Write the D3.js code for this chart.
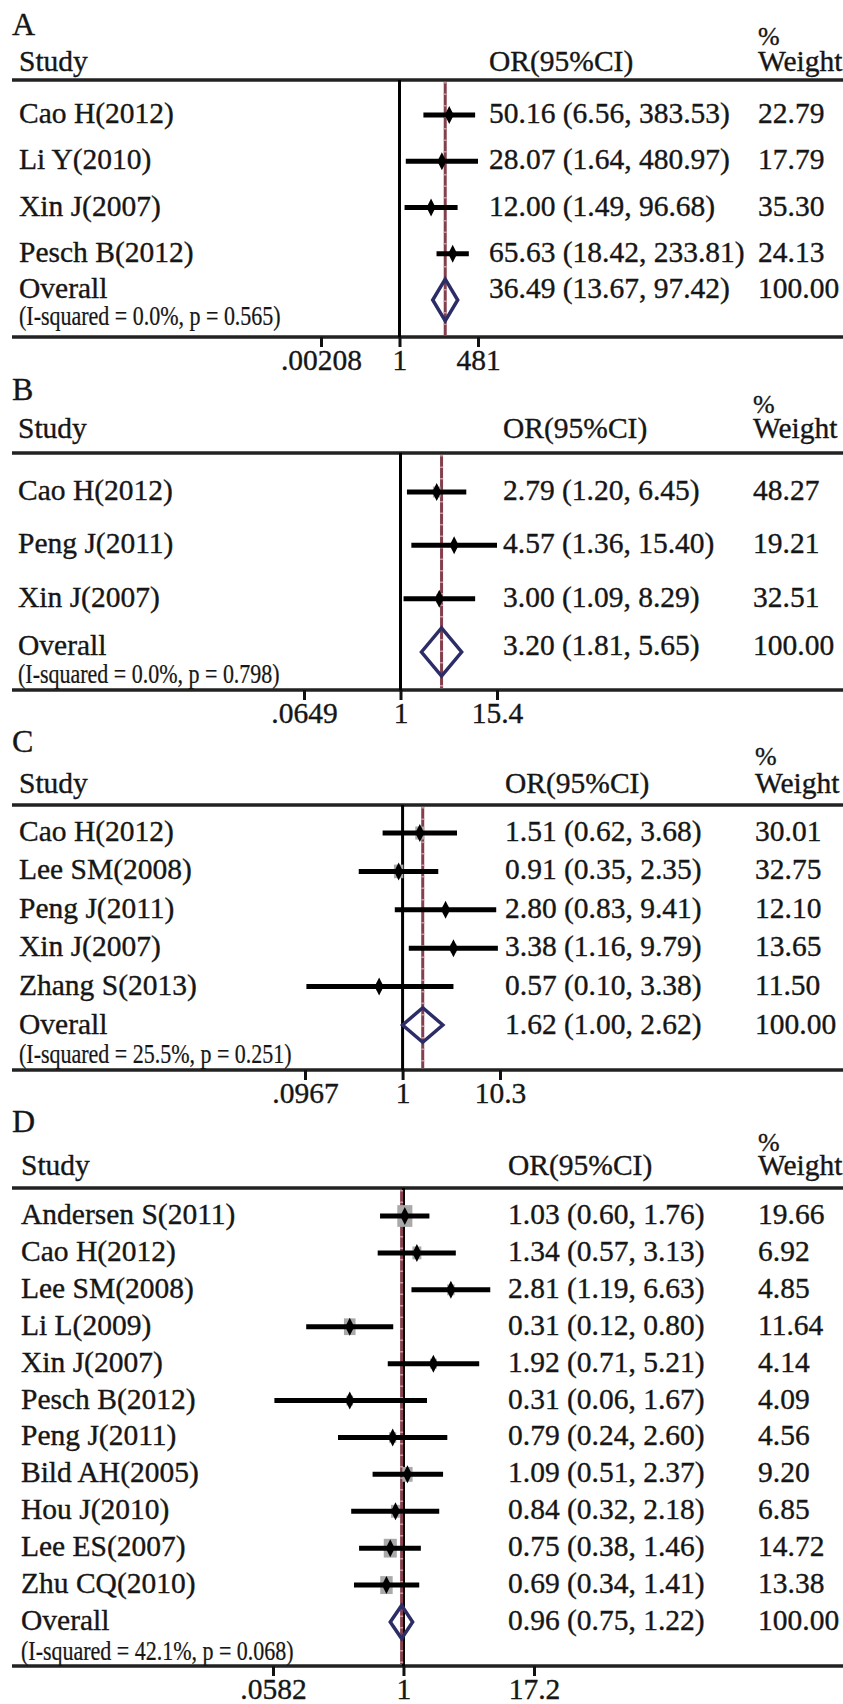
<!DOCTYPE html>
<html>
<head>
<meta charset="utf-8">
<script src="https://cdn.jsdelivr.net/npm/d3@7"></script>
<style>
  body { margin: 0; background: #fff; }
  svg { display: block; }
  text { font-family: "Liberation Serif", "Times New Roman", serif; fill: #161616; stroke: #161616; stroke-width: 0.35px; }
</style>
</head>
<body>
<div id="viz"></div>
<script>
// ---- data ----
const studiesA = ["Cao H(2012)", "Li Y(2010)", "Xin J(2007)", "Pesch B(2012)"];
const orA      = [50.16, 28.07, 12.00, 65.63];
const lowA     = [6.56, 1.64, 1.49, 18.42];
const highA    = [383.53, 480.97, 96.68, 233.81];
const weightA  = [22.79, 17.79, 35.30, 24.13];
const overallA = [36.49, 13.67, 97.42];
const hetA     = "(I-squared = 0.0%, p = 0.565)";
const ticksA   = [".00208", "1", "481"];

const studiesB = ["Cao H(2012)", "Peng J(2011)", "Xin J(2007)"];
const orB      = [2.79, 4.57, 3.00];
const lowB     = [1.20, 1.36, 1.09];
const highB    = [6.45, 15.40, 8.29];
const weightB  = [48.27, 19.21, 32.51];
const overallB = [3.20, 1.81, 5.65];
const hetB     = "(I-squared = 0.0%, p = 0.798)";
const ticksB   = [".0649", "1", "15.4"];

const studiesC = ["Cao H(2012)", "Lee SM(2008)", "Peng J(2011)", "Xin J(2007)", "Zhang S(2013)"];
const orC      = [1.51, 0.91, 2.80, 3.38, 0.57];
const lowC     = [0.62, 0.35, 0.83, 1.16, 0.10];
const highC    = [3.68, 2.35, 9.41, 9.79, 3.38];
const weightC  = [30.01, 32.75, 12.10, 13.65, 11.50];
const overallC = [1.62, 1.00, 2.62];
const hetC     = "(I-squared = 25.5%, p = 0.251)";
const ticksC   = [".0967", "1", "10.3"];

const studiesD = ["Andersen S(2011)", "Cao H(2012)", "Lee SM(2008)", "Li L(2009)", "Xin J(2007)",
                  "Pesch B(2012)", "Peng J(2011)", "Bild AH(2005)", "Hou J(2010)", "Lee ES(2007)", "Zhu CQ(2010)"];
const orD      = [1.03, 1.34, 2.81, 0.31, 1.92, 0.31, 0.79, 1.09, 0.84, 0.75, 0.69];
const lowD     = [0.60, 0.57, 1.19, 0.12, 0.71, 0.06, 0.24, 0.51, 0.32, 0.38, 0.34];
const highD    = [1.76, 3.13, 6.63, 0.80, 5.21, 1.67, 2.60, 2.37, 2.18, 1.46, 1.41];
const weightD  = [19.66, 6.92, 4.85, 11.64, 4.14, 4.09, 4.56, 9.20, 6.85, 14.72, 13.38];
const overallD = [0.96, 0.75, 1.22];
const hetD     = "(I-squared = 42.1%, p = 0.068)";
const ticksD   = [".0582", "1", "17.2"];

// ---- layout for each panel (pixel positions, not data) ----
const layouts = [
  {letter: "A", letterY: 35,   pctY: 45,   headY: 71,   ruleTop: 80,   firstY: 115,  overallY: 300,  ovTextY: 298,  hetY: 325,  ruleBot: 337,  range: [321, 478], labelX: 19, orX: 489, wX: 758, boxK: 0.8},
  {letter: "B", letterY: 400,  pctY: 413,  headY: 438,  ruleTop: 453,  firstY: 492,  overallY: 652,  ovTextY: 655,  hetY: 683,  ruleBot: 690,  range: [304, 497], labelX: 18, orX: 503, wX: 753, boxK: 1.1},
  {letter: "C", letterY: 752,  pctY: 765,  headY: 793,  ruleTop: 805,  firstY: 833,  overallY: 1025, ovTextY: 1034, hetY: 1063, ruleBot: 1070, range: [305, 500], labelX: 19, orX: 505, wX: 755, boxK: 1.65},
  {letter: "D", letterY: 1132, pctY: 1151, headY: 1175, ruleTop: 1188, firstY: 1216, overallY: 1622, ovTextY: 1630, hetY: 1660, ruleBot: 1666, range: [273, 534], labelX: 21, orX: 508, wX: 758, boxK: 3.4}
];

const panels = [
  {studies: studiesA, or: orA, low: lowA, high: highA, weight: weightA, overall: overallA, het: hetA, ticks: ticksA},
  {studies: studiesB, or: orB, low: lowB, high: highB, weight: weightB, overall: overallB, het: hetB, ticks: ticksB},
  {studies: studiesC, or: orC, low: lowC, high: highC, weight: weightC, overall: overallC, het: hetC, ticks: ticksC},
  {studies: studiesD, or: orD, low: lowD, high: highD, weight: weightD, overall: overallD, het: hetD, ticks: ticksD}
];

const width = 843, height = 1704;
const fontSize = 29.5;
const ruleLeft = 12;

let svg = d3.select("#viz")
  .append("svg")
    .attr("width", width)
    .attr("height", height);

svg.append("rect").attr("width", width).attr("height", height).attr("fill", "#fff");

const fmt = d3.format(".2f");

function drawPanel(p, L) {
  let g = svg.append("g").attr("class", "panel-" + L.letter);
  let n = p.studies.length;

  // log scale on the odds ratio, symmetric around 1
  let tickVals = p.ticks.map(t => +t);
  let x = d3.scaleLog()
    .domain([tickVals[0], tickVals[tickVals.length - 1]])
    .range(L.range);
  // rows: 0..n-1 studies, n = overall
  let y = d3.scaleLinear()
    .domain([0, n])
    .range([L.firstY, L.overallY]);

  // panel letter + column headings
  g.append("text").attr("x", 12).attr("y", L.letterY)
    .style("font-size", "32px").text(L.letter);
  g.append("text").attr("x", L.labelX).attr("y", L.headY)
    .style("font-size", fontSize + "px").text("Study");
  g.append("text").attr("x", L.orX).attr("y", L.headY)
    .style("font-size", fontSize + "px").text("OR(95%CI)");
  g.append("text").attr("x", L.wX).attr("y", L.pctY)
    .style("font-size", "26px").text("%");
  g.append("text").attr("x", L.wX).attr("y", L.headY)
    .style("font-size", fontSize + "px").text("Weight");

  // horizontal rules
  [L.ruleTop, L.ruleBot].forEach(ry => {
    g.append("line")
      .attr("x1", ruleLeft).attr("x2", width)
      .attr("y1", ry).attr("y2", ry)
      .attr("stroke", "#222").attr("stroke-width", 3.5);
  });

  // line of no effect
  g.append("line")
    .attr("x1", x(1)).attr("x2", x(1))
    .attr("y1", L.ruleTop).attr("y2", L.ruleBot)
    .attr("stroke", "#000").attr("stroke-width", 3);

  // pooled estimate line (dark red, lightly dashed)
  g.append("line")
    .attr("x1", x(p.overall[0])).attr("x2", x(p.overall[0]))
    .attr("y1", L.ruleTop + 2).attr("y2", L.ruleBot - 2)
    .attr("stroke", "#843f4c").attr("stroke-width", 3);
  g.append("line")
    .attr("x1", x(p.overall[0])).attr("x2", x(p.overall[0]))
    .attr("y1", L.ruleTop + 2).attr("y2", L.ruleBot - 2)
    .attr("stroke", "#c99aa2").attr("stroke-width", 3)
    .attr("stroke-dasharray", "1.5,10");

  // bottom axis with the three ticks
  let axis = g.append("g")
    .attr("transform", "translate(0," + L.ruleBot + ")")
    .call(d3.axisBottom(x)
      .tickValues(tickVals)
      .tickFormat((d, i) => p.ticks[i])
      .tickSize(10)
      .tickPadding(2));
  axis.select(".domain").remove();
  axis.selectAll(".tick line").attr("stroke", "#111").attr("stroke-width", 3);
  axis.selectAll(".tick text")
    .attr("fill", "#161616")
    .style("font-family", "\"Liberation Serif\", \"Times New Roman\", serif")
    .style("font-size", fontSize + "px");

  let rows = p.studies.map((s, i) => ({
    study: s, or: p.or[i], low: p.low[i], high: p.high[i], weight: p.weight[i], i: i
  }));

  // weight boxes (grey)
  g.selectAll("rect.box")
    .data(rows)
    .enter()
    .append("rect")
      .attr("class", "box")
      .attr("x", d => x(d.or) - L.boxK * Math.sqrt(d.weight) / 2)
      .attr("y", d => y(d.i) - L.boxK * Math.sqrt(d.weight) * 0.72)
      .attr("width", d => L.boxK * Math.sqrt(d.weight))
      .attr("height", d => L.boxK * Math.sqrt(d.weight) * 1.44)
      .attr("fill", "#a9a9a9");

  // confidence intervals
  g.selectAll("line.ci")
    .data(rows)
    .enter()
    .append("line")
      .attr("class", "ci")
      .attr("x1", d => x(d.low)).attr("x2", d => x(d.high))
      .attr("y1", d => y(d.i)).attr("y2", d => y(d.i))
      .attr("stroke", "#000").attr("stroke-width", 5);

  // point estimates: small black diamonds
  g.selectAll("path.pt")
    .data(rows)
    .enter()
    .append("path")
      .attr("class", "pt")
      .attr("d", d => {
        let cx = x(d.or), cy = y(d.i);
        return "M" + cx + "," + (cy - 9) + "L" + (cx + 4.5) + "," + cy +
               "L" + cx + "," + (cy + 9) + "L" + (cx - 4.5) + "," + cy + "Z";
      })
      .attr("fill", "#000");

  // study labels, OR text and weights
  g.selectAll("text.study")
    .data(rows).enter().append("text")
      .attr("class", "study")
      .attr("x", L.labelX).attr("y", d => y(d.i) + 8)
      .style("font-size", fontSize + "px")
      .text(d => d.study);
  g.selectAll("text.ortext")
    .data(rows).enter().append("text")
      .attr("class", "ortext")
      .attr("x", L.orX).attr("y", d => y(d.i) + 8)
      .style("font-size", fontSize + "px")
      .text(d => fmt(d.or) + " (" + fmt(d.low) + ", " + fmt(d.high) + ")");
  g.selectAll("text.wtext")
    .data(rows).enter().append("text")
      .attr("class", "wtext")
      .attr("x", L.wX).attr("y", d => y(d.i) + 8)
      .style("font-size", fontSize + "px")
      .text(d => fmt(d.weight));

  // overall diamond
  let oy = y(n), dh = (y(1) - y(0)) * 0.45;
  g.append("path")
    .attr("d", "M" + x(p.overall[1]) + "," + oy +
               "L" + x(p.overall[0]) + "," + (oy - dh) +
               "L" + x(p.overall[2]) + "," + oy +
               "L" + x(p.overall[0]) + "," + (oy + dh) + "Z")
    .attr("fill", "none")
    .attr("stroke", "#2c2d66")
    .attr("stroke-width", 3.5)
    .attr("stroke-linejoin", "miter");

  g.append("text").attr("x", L.labelX).attr("y", L.ovTextY)
    .style("font-size", fontSize + "px").text("Overall");
  g.append("text").attr("x", L.orX).attr("y", L.ovTextY)
    .style("font-size", fontSize + "px")
    .text(fmt(p.overall[0]) + " (" + fmt(p.overall[1]) + ", " + fmt(p.overall[2]) + ")");
  g.append("text").attr("x", L.wX).attr("y", L.ovTextY)
    .style("font-size", fontSize + "px").text("100.00");

  // heterogeneity note (condensed look)
  g.append("text")
    .attr("transform", "translate(" + L.labelX + "," + L.hetY + ") scale(1,1.2)")
    .style("font-size", "22px")
    .style("stroke-width", "0.2px")
    .text(p.het);
}

panels.forEach((p, i) => drawPanel(p, layouts[i]));
</script>
</body>
</html>
